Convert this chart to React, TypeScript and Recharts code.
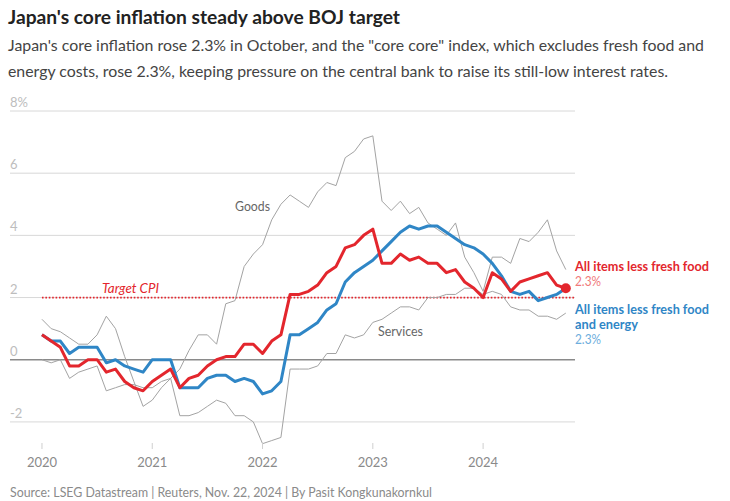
import React from "react";
import {
  LineChart,
  Line,
  XAxis,
  YAxis,
  ReferenceLine,
  ReferenceDot,
} from "recharts";

// Monthly year-on-year change, Jan 2020 - Oct 2024 (%)
const years = ["2020", "2021", "2022", "2023", "2024"];
const xTicks = [0, 12, 24, 36, 48];
const yTicks = [-2, 0, 2, 4, 6, 8];

const core = [
  0.8, 0.6, 0.4, -0.2, -0.2, 0.0, 0.0, -0.4, -0.3, -0.7, -0.9, -1.0,
  -0.7, -0.5, -0.3, -0.9, -0.6, -0.5, -0.2, 0.0, 0.1, 0.1, 0.5, 0.5,
  0.2, 0.6, 0.8, 2.1, 2.1, 2.2, 2.4, 2.8, 3.0, 3.6, 3.7, 4.0,
  4.2, 3.1, 3.1, 3.4, 3.2, 3.3, 3.1, 3.1, 2.8, 2.9, 2.5, 2.3,
  2.0, 2.8, 2.6, 2.2, 2.5, 2.6, 2.7, 2.8, 2.4, 2.3,
];
const coreCore = [
  0.8, 0.6, 0.6, 0.2, 0.4, 0.4, 0.4, -0.1, 0.0, -0.2, -0.3, -0.4,
  0.0, 0.0, 0.0, -0.9, -0.9, -0.9, -0.6, -0.5, -0.5, -0.7, -0.6, -0.7,
  -1.1, -1.0, -0.7, 0.8, 0.8, 1.0, 1.2, 1.6, 1.8, 2.5, 2.8, 3.0,
  3.2, 3.5, 3.8, 4.1, 4.3, 4.2, 4.3, 4.3, 4.1, 3.9, 3.7, 3.6,
  3.4, 3.1, 2.7, 2.2, 2.1, 2.2, 1.9, 2.0, 2.1, 2.3,
];
const goods = [
  1.3, 1.0, 0.9, 0.7, 0.5, 0.5, 0.8, 1.4, 1.0, 0.1, -0.7, -1.5,
  -1.3, -0.9, -0.6, -0.3, 0.3, 0.8, 0.8, 0.5, 1.8, 1.9, 3.0, 3.4,
  3.7, 4.5, 5.0, 5.3, 5.1, 4.9, 5.4, 5.7, 5.6, 6.5, 6.7, 7.1,
  7.2, 5.1, 4.8, 5.1, 4.7, 4.9, 4.4, 4.2, 4.0, 4.4, 3.3, 2.8,
  2.2, 3.3, 3.3, 3.1, 3.9, 3.8, 4.1, 4.5, 3.5, 2.9,
];
const services = [
  0.0, -0.1, 0.0, -0.6, -0.4, -0.3, -0.2, -1.0, -0.9, -0.8, -0.8, -0.9,
  -0.9, -0.7, -0.6, -1.8, -1.8, -1.7, -1.5, -1.3, -1.4, -1.8, -1.8, -2.0,
  -2.7, -2.6, -2.5, -0.3, -0.3, -0.3, -0.2, 0.2, 0.2, 0.8, 0.7, 0.8,
  1.2, 1.3, 1.5, 1.7, 1.7, 1.6, 2.0, 2.0, 2.1, 2.1, 2.3, 2.3,
  2.1, 2.2, 2.1, 1.7, 1.6, 1.6, 1.4, 1.4, 1.3, 1.5,
];
const target = 2;

const data = core.map((v, i) => ({
  i,
  core: v,
  coreCore: coreCore[i],
  goods: goods[i],
  services: services[i],
}));
const last = data.length - 1;

const RED = "#e3262d";
const BLUE = "#2f86c6";
const GRAY = "#a3a3a3";
const FONT = "Lato, 'Noto Sans', sans-serif";

function XTick(props: any) {
  const { x, y, payload } = props;
  return (
    <g>
      <line x1={x} x2={x} y1={y - 10} y2={y - 4} stroke="#cfcfcf" />
      <text x={x} y={y + 14} textAnchor="middle" fontSize={13} fill="#8a8a8a" fontFamily={FONT}>
        {years[payload.value / 12]}
      </text>
    </g>
  );
}

function YTick(props: any) {
  const { x, y, payload } = props;
  return (
    <text x={x} y={y - 4} fontSize={13} fill="#bdbdbd" fontFamily={FONT}>
      {payload.value === 8 ? "8%" : String(payload.value)}
    </text>
  );
}

export default function App() {
  return (
    <div style={{ position: "absolute", left: 0, top: 0, width: 730, height: 501, background: "#fff", overflow: "hidden" }}>
      <LineChart
        width={730}
        height={501}
        data={data}
        margin={{ top: 111, right: 155, bottom: 0, left: 0 }}
      >
        <XAxis
          dataKey="i"
          type="number"
          domain={[-3.48, 58]}
          allowDataOverflow
          ticks={xTicks}
          height={48}
          tickSize={0}
          tickMargin={0}
          axisLine={false}
          tickLine={false}
          tick={<XTick />}
        />
        <YAxis
          type="number"
          domain={[-3, 8]}
          allowDataOverflow
          ticks={yTicks}
          width={10}
          tickSize={0}
          tickMargin={0}
          axisLine={false}
          tickLine={false}
          tick={<YTick />}
        />
        {yTicks
          .filter((v) => v !== 0)
          .map((v) => (
            <ReferenceLine key={v} y={v} stroke="#d8d8d8" strokeWidth={1} />
          ))}
        <ReferenceLine y={0} stroke="#8a8a8a" strokeWidth={1.5} />
        <ReferenceLine
          segment={[{ x: 0, y: target }, { x: 58, y: target }]}
          stroke={RED}
          strokeWidth={1.8}
          strokeDasharray="1.6 1.8"
        />
        <Line dataKey="goods" stroke={GRAY} strokeWidth={1} dot={false} activeDot={false} isAnimationActive={false} />
        <Line dataKey="services" stroke={GRAY} strokeWidth={1} dot={false} activeDot={false} isAnimationActive={false} />
        <Line dataKey="coreCore" stroke={BLUE} strokeWidth={3} dot={false} activeDot={false} strokeLinejoin="round" isAnimationActive={false} />
        <Line dataKey="core" stroke={RED} strokeWidth={3} dot={false} activeDot={false} strokeLinejoin="round" isAnimationActive={false} />
        <ReferenceDot x={last} y={core[last]} r={5} fill={RED} stroke="none" />
      </LineChart>

      <svg width={730} height={501} style={{ position: "absolute", left: 0, top: 0, pointerEvents: "none" }} fontFamily={FONT}>
        <text x={8} y={24} fontSize={19} fontWeight={700} fill="#222" textLength={392} lengthAdjust="spacingAndGlyphs">
          Japan's core inflation steady above BOJ target
        </text>
        <text x={8} y={51} fontSize={16} fill="#444" textLength={696} lengthAdjust="spacingAndGlyphs">
          Japan's core inflation rose 2.3% in October, and the "core core" index, which excludes fresh food and
        </text>
        <text x={8} y={77} fontSize={16} fill="#444" textLength={660} lengthAdjust="spacingAndGlyphs">
          energy costs, rose 2.3%, keeping pressure on the central bank to raise its still-low interest rates.
        </text>

        <text x={102} y={293} fontSize={13} fontStyle="italic" fill={RED} textLength={57} lengthAdjust="spacingAndGlyphs">
          Target CPI
        </text>
        <text x={235} y={211} fontSize={13} fill="#666" textLength={35} lengthAdjust="spacingAndGlyphs">
          Goods
        </text>
        <text x={378} y={336} fontSize={13} fill="#666" textLength={45} lengthAdjust="spacingAndGlyphs">
          Services
        </text>

        <text x={575} y={271} fontSize={13} fontWeight={700} fill={RED} textLength={134} lengthAdjust="spacingAndGlyphs">
          All items less fresh food
        </text>
        <text x={575} y={286} fontSize={13} fill="#f07a7a" textLength={26} lengthAdjust="spacingAndGlyphs">
          2.3%
        </text>
        <text x={575} y={314} fontSize={13} fontWeight={700} fill={BLUE} textLength={134} lengthAdjust="spacingAndGlyphs">
          All items less fresh food
        </text>
        <text x={575} y={329} fontSize={13} fontWeight={700} fill={BLUE} textLength={63} lengthAdjust="spacingAndGlyphs">
          and energy
        </text>
        <text x={575} y={344} fontSize={13} fill="#6daedd" textLength={26} lengthAdjust="spacingAndGlyphs">
          2.3%
        </text>

        <text x={10} y={497} fontSize={13} fill="#8a8a8a" textLength={422} lengthAdjust="spacingAndGlyphs">
          Source: LSEG Datastream | Reuters, Nov. 22, 2024 | By Pasit Kongkunakornkul
        </text>
      </svg>
    </div>
  );
}
